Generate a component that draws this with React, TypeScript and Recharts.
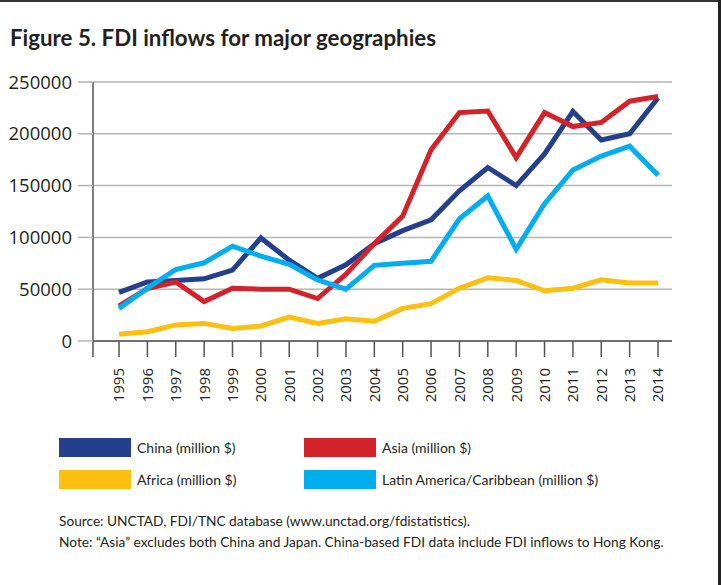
import { LineChart, Line, XAxis, YAxis, CartesianGrid } from "recharts";

const years = [1995, 1996, 1997, 1998, 1999, 2000, 2001, 2002, 2003, 2004, 2005, 2006, 2007, 2008, 2009, 2010, 2011, 2012, 2013, 2014];
const china = [47000, 57000, 58500, 60000, 68500, 99500, 78000, 60500, 73500, 94000, 106500, 117000, 145000, 167500, 150000, 180500, 221500, 194000, 200000, 234500];
const asia = [34000, 50500, 57000, 38000, 51000, 50000, 50000, 41000, 64500, 94000, 120500, 184500, 220500, 222000, 177000, 220500, 207000, 211000, 231500, 236000];
const africa = [6500, 9000, 15500, 17000, 12000, 14500, 23000, 17000, 21500, 19000, 31500, 36000, 51000, 61000, 58500, 48500, 51000, 59000, 56000, 56000];
const latam = [31500, 51000, 69000, 75500, 91500, 82000, 74000, 59000, 50000, 73000, 75000, 77000, 118000, 140000, 88500, 132500, 165000, 178500, 188000, 160000];
const yTicks = [0, 50000, 100000, 150000, 200000, 250000];

const COLORS = {
  china: "#243f8c",
  asia: "#d2232a",
  africa: "#fdc010",
  latam: "#00aeef",
};

const TEXT = "#231f20";
const LABEL_FONT = "Lato, 'Open Sans', sans-serif";
const AXIS_FONT = "'Open Sans', sans-serif";

// x domain is stretched so the first year sits a bit right of the y axis
const X_MIN = 1994.083;
const X_MAX = 2014.493;

const data = years.map((year, i) => ({
  year,
  china: china[i],
  asia: asia[i],
  africa: africa[i],
  latam: latam[i],
}));

function YearTick({ x, y, payload }: any) {
  if (!Number.isInteger(payload.value)) return null;
  return (
    <g transform={`translate(${x},${y})`}>
      <text
        transform="rotate(-90)"
        textAnchor="end"
        dy="0.36em"
        fill={TEXT}
        fontSize={15}
        fontFamily={AXIS_FONT}
      >
        {payload.value}
      </text>
    </g>
  );
}

const legendItems = [
  { key: "china", label: "China (million $)", left: 59, top: 438 },
  { key: "asia", label: "Asia (million $)", left: 304, top: 438 },
  { key: "africa", label: "Africa (million $)", left: 59, top: 470 },
  { key: "latam", label: "Latin America/Caribbean (million $)", left: 304, top: 470 },
];

export default function App() {
  return (
    <div
      style={{
        position: "absolute",
        left: 0,
        top: 0,
        width: 721,
        height: 585,
        background: "#fff",
        overflow: "hidden",
        color: TEXT,
        fontFamily: LABEL_FONT,
      }}
    >
      <div style={{ position: "absolute", left: 0, top: 0, width: 721, height: 2, background: "#333" }} />
      <div style={{ position: "absolute", left: 718, top: 0, width: 3, height: 585, background: "#222" }} />

      <div
        style={{
          position: "absolute",
          left: 10,
          top: 24,
          fontSize: 22.3,
          fontWeight: 700,
          whiteSpace: "nowrap",
        }}
      >
        Figure 5. FDI inflows for major geographies
      </div>

      <div style={{ position: "absolute", left: 0, top: 0 }}>
        <LineChart width={721} height={440} data={data} margin={{ top: 82, right: 49, left: 0, bottom: 0 }}>
          <CartesianGrid vertical={false} stroke="#b5b5b5" strokeWidth={1.5} />
          <XAxis
            dataKey="year"
            type="number"
            domain={[X_MIN, X_MAX]}
            ticks={[X_MIN, ...years]}
            interval={0}
            height={99}
            tickSize={16}
            tickMargin={11}
            axisLine={{ stroke: "#555", strokeWidth: 1.5 }}
            tickLine={{ stroke: "#555", strokeWidth: 1.5 }}
            tick={<YearTick />}
          />
          <YAxis
            domain={[0, 250000]}
            ticks={yTicks}
            width={93}
            tickSize={15}
            tickMargin={6}
            axisLine={{ stroke: "#555", strokeWidth: 1.5 }}
            tickLine={{ stroke: "#b5b5b5", strokeWidth: 1.5 }}
            tick={{ fill: TEXT, fontSize: 18.5, fontFamily: AXIS_FONT }}
          />
          <Line dataKey="africa" stroke={COLORS.africa} strokeWidth={5} dot={false} isAnimationActive={false} />
          <Line dataKey="china" stroke={COLORS.china} strokeWidth={5} dot={false} isAnimationActive={false} />
          <Line dataKey="asia" stroke={COLORS.asia} strokeWidth={5} dot={false} isAnimationActive={false} />
          <Line dataKey="latam" stroke={COLORS.latam} strokeWidth={5} dot={false} isAnimationActive={false} />
        </LineChart>
      </div>

      {legendItems.map((item) => (
        <div key={item.key}>
          <div
            style={{
              position: "absolute",
              left: item.left,
              top: item.top,
              width: 72,
              height: 19,
              background: COLORS[item.key as keyof typeof COLORS],
            }}
          />
          <div
            style={{
              position: "absolute",
              left: item.left + 78,
              top: item.top,
              height: 19,
              lineHeight: "19px",
              fontSize: 14,
              whiteSpace: "nowrap",
            }}
          >
            {item.label}
          </div>
        </div>
      ))}

      <div style={{ position: "absolute", left: 59, top: 510, fontSize: 13.7, lineHeight: "21px", whiteSpace: "nowrap" }}>
        <div>Source: UNCTAD, FDI/TNC database (www.unctad.org/fdistatistics).</div>
        <div>Note: “Asia” excludes both China and Japan. China-based FDI data include FDI inflows to Hong Kong.</div>
      </div>
    </div>
  );
}
